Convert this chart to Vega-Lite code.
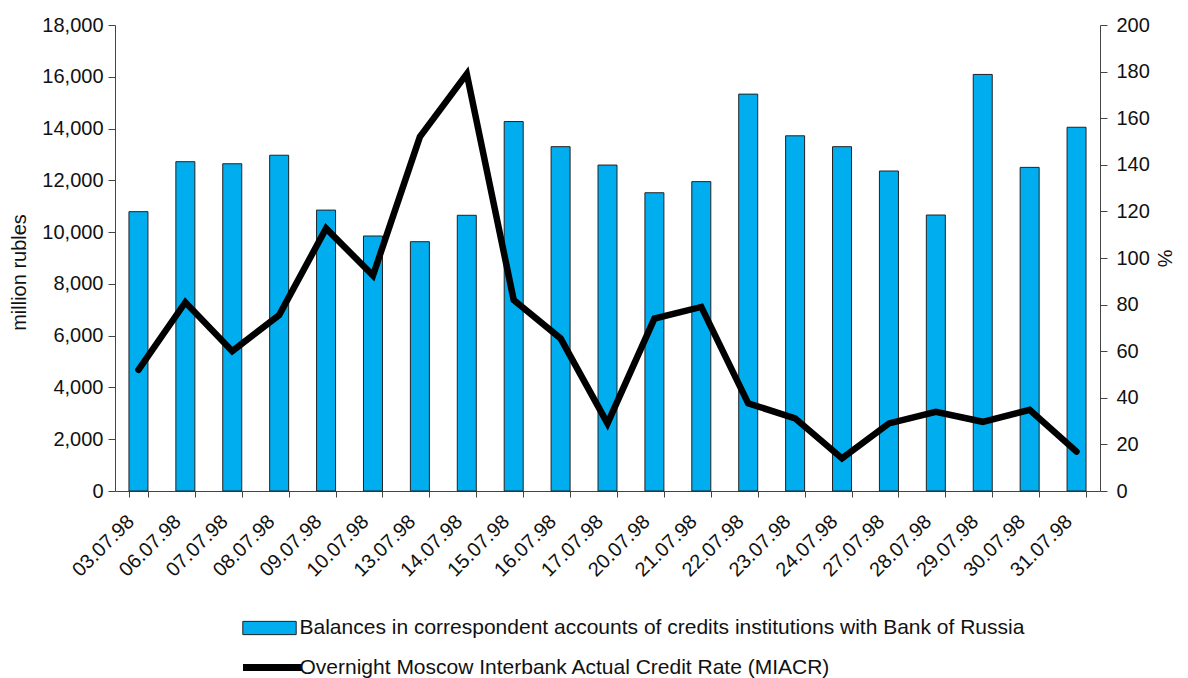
{
  "$schema": "https://vega.github.io/schema/vega-lite/v6.json",
  "autosize": {"type": "none"},
  "width": 985,
  "height": 466,
  "padding": {"left": 115, "top": 25, "right": 88, "bottom": 187},
  "background": "white",
  "config": {
    "view": {"stroke": null},
    "font": "Liberation Sans",
    "axis": {
      "labelFont": "Liberation Sans",
      "titleFont": "Liberation Sans",
      "labelFontSize": 20,
      "titleFontSize": 20,
      "titleFontWeight": "normal",
      "labelColor": "#111",
      "titleColor": "#111",
      "domainColor": "#444",
      "tickColor": "#444",
      "labelOverlap": false,
      "grid": false
    },
    "legend": {"labelFont": "Liberation Sans", "labelFontSize": 21, "labelColor": "#111", "labelLimit": 0}
  },
  "data": {
    "values": [
      {"date": "03.07.98", "balance": 10790, "rate": 52},
      {"date": "06.07.98", "balance": 12720, "rate": 81},
      {"date": "07.07.98", "balance": 12640, "rate": 60},
      {"date": "08.07.98", "balance": 12970, "rate": 75.5},
      {"date": "09.07.98", "balance": 10850, "rate": 112.7},
      {"date": "10.07.98", "balance": 9850, "rate": 92.5},
      {"date": "13.07.98", "balance": 9630, "rate": 152},
      {"date": "14.07.98", "balance": 10650, "rate": 179},
      {"date": "15.07.98", "balance": 14270, "rate": 82},
      {"date": "16.07.98", "balance": 13300, "rate": 65.5},
      {"date": "17.07.98", "balance": 12590, "rate": 29},
      {"date": "20.07.98", "balance": 11520, "rate": 74},
      {"date": "21.07.98", "balance": 11950, "rate": 79},
      {"date": "22.07.98", "balance": 15330, "rate": 37.6},
      {"date": "23.07.98", "balance": 13720, "rate": 31.2},
      {"date": "24.07.98", "balance": 13300, "rate": 14},
      {"date": "27.07.98", "balance": 12360, "rate": 29},
      {"date": "28.07.98", "balance": 10660, "rate": 34},
      {"date": "29.07.98", "balance": 16090, "rate": 29.7},
      {"date": "30.07.98", "balance": 12500, "rate": 34.8},
      {"date": "31.07.98", "balance": 14050, "rate": 16.9}
    ]
  },
  "encoding": {
    "x": {
      "field": "date",
      "type": "ordinal",
      "sort": null,
      "scale": {"paddingInner": 0.595, "paddingOuter": 0.2975},
      "axis": {
        "title": null,
        "labelAngle": -45,
        "labelAlign": "right",
        "labelBaseline": "top",
        "tickBand": "extent",
        "tickSize": 6,
        "labelPadding": 14,
        "labelOffset": -15,
        "domainColor": "#444"
      }
    }
  },
  "layer": [
    {
      "mark": {"type": "bar", "stroke": "#222", "strokeWidth": 1},
      "encoding": {
        "y": {
          "field": "balance",
          "type": "quantitative",
          "scale": {"domain": [0, 18000]},
          "axis": {
            "title": "million rubles",
            "values": [0, 2000, 4000, 6000, 8000, 10000, 12000, 14000, 16000, 18000],
            "format": ",d",
            "tickSize": 7,
            "labelPadding": 5,
            "titleX": -86,
            "titleY": 247
          }
        },
        "fill": {
          "datum": "Balances in correspondent accounts of credits institutions with Bank of Russia",
          "type": "nominal",
          "scale": {"range": ["#00AEEF"]},
          "legend": {
            "title": null,
            "orient": "none",
            "legendX": 124.5,
            "legendY": 573,
            "padding": 0,
            "symbolType": "M-0.905,-0.225H0.905V0.225H-0.905Z",
            "symbolSize": 3481,
            "symbolStrokeColor": "#222",
            "symbolStrokeWidth": 1,
            "labelOffset": 0
          }
        }
      }
    },
    {
      "mark": {"type": "line", "strokeWidth": 6.5, "strokeCap": "round", "strokeJoin": "miter"},
      "encoding": {
        "y": {
          "field": "rate",
          "type": "quantitative",
          "scale": {"domain": [0, 200]},
          "axis": {
            "orient": "right",
            "title": "%",
            "values": [0, 20, 40, 60, 80, 100, 120, 140, 160, 180, 200],
            "tickSize": 7,
            "labelPadding": 9
          }
        },
        "stroke": {
          "datum": "Overnight Moscow Interbank Actual Credit Rate (MIACR)",
          "type": "nominal",
          "scale": {"range": ["#000000"]},
          "legend": {
            "title": null,
            "orient": "none",
            "legendX": 124.5,
            "legendY": 609.5,
            "padding": 0,
            "symbolType": "stroke",
            "symbolSize": 3481,
            "symbolStrokeWidth": 7,
            "labelOffset": -6
          }
        }
      }
    }
  ],
  "resolve": {"scale": {"y": "independent"}}
}
